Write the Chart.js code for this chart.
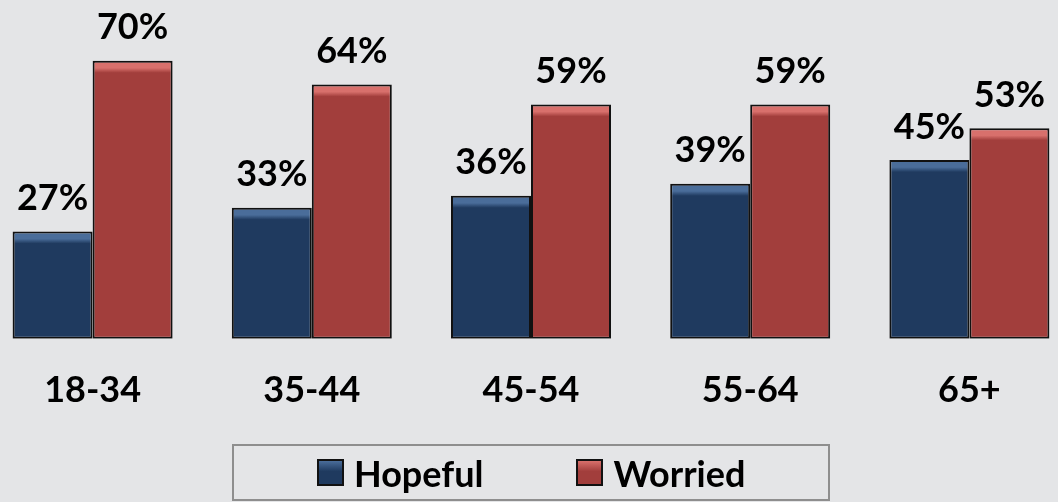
<!DOCTYPE html>
<html>
<head>
<meta charset="utf-8">
<script src="https://cdn.jsdelivr.net/npm/chart.js@4.4.1/dist/chart.umd.min.js"></script>
<style>
  html, body { margin: 0; padding: 0; background: #e4e5e7; width: 1058px; height: 502px; overflow: hidden; }
  #wrap { position: absolute; left: -17px; top: 0; width: 1096px; height: 502px; }
  #legend {
    position: absolute; left: 232px; top: 444px; width: 511px; height: 53px;
    border: 2px solid #8e8e8e; display: flex; align-items: center;
    padding-left: 83px; box-sizing: content-box; gap: 93px;
    font: bold 36px Lato, sans-serif; color: #000;
  }
  #legend .item { display: flex; align-items: center; }
  #legend .swatch { width: 23px; height: 23px; border: 2px solid #111; margin-right: 10px; }
</style>
</head>
<body>
<div id="wrap"><canvas id="chart"></canvas></div>
<div id="legend"></div>
<script>
const categories = ['18-34', '35-44', '45-54', '55-64', '65+'];
const hopefulValues = [27, 33, 36, 39, 45];
const worriedValues = [70, 64, 59, 59, 53];
const seriesNames = ['Hopeful', 'Worried'];

const FONT = 'Lato, sans-serif';

// lighter strip along the top of each bar, like the bevel in the original
function bevel(base, light) {
  return ctx => {
    const chart = ctx.chart;
    if (!chart.chartArea || !chart.scales.y || ctx.dataIndex === undefined) return base;
    const top = chart.scales.y.getPixelForValue(ctx.dataset.data[ctx.dataIndex]);
    const g = chart.ctx.createLinearGradient(0, top, 0, top + 12);
    g.addColorStop(0, light);
    g.addColorStop(0.6, light);
    g.addColorStop(1, base);
    return g;
  };
}

const valueLabels = {
  id: 'valueLabels',
  afterDatasetsDraw(chart) {
    const ctx = chart.ctx;
    ctx.save();
    ctx.font = 'bold 36px ' + FONT;
    ctx.fillStyle = '#000';
    ctx.textAlign = 'center';
    ctx.textBaseline = 'middle';
    chart.data.datasets.forEach((ds, i) => {
      chart.getDatasetMeta(i).data.forEach((bar, j) => {
        ctx.fillText(ds.data[j] + '%', bar.x, bar.y - 33);
      });
    });
    ctx.restore();
  }
};

const htmlLegend = {
  id: 'htmlLegend',
  afterUpdate(chart) {
    const box = document.getElementById('legend');
    box.innerHTML = chart.data.datasets.map(ds => `
      <div class="item">
        <span class="swatch" style="background:${ds.swatch}"></span>
        <span>${ds.label}</span>
      </div>`).join('');
  }
};

new Chart(document.getElementById('chart'), {
  type: 'bar',
  data: {
    labels: categories,
    datasets: [
      {
        label: seriesNames[0],
        data: hopefulValues,
        backgroundColor: bevel('#1f3a5f', '#4a6d9a'),
        swatch: 'linear-gradient(#4a6d9a, #1f3a5f 45%)',
        borderColor: '#111',
        borderWidth: 2,
        borderSkipped: false
      },
      {
        label: seriesNames[1],
        data: worriedValues,
        backgroundColor: bevel('#a23e3c', '#d8706c'),
        swatch: 'linear-gradient(#d8706c, #a23e3c 45%)',
        borderColor: '#111',
        borderWidth: 2,
        borderSkipped: false
      }
    ]
  },
  options: {
    responsive: true,
    maintainAspectRatio: false,
    animation: false,
    layout: { padding: { top: 21, bottom: 68, left: 0, right: 0 } },
    datasets: {
      bar: { categoryPercentage: 0.73, barPercentage: 1 }
    },
    plugins: {
      legend: { display: false },
      tooltip: { enabled: false }
    },
    scales: {
      x: {
        grid: { display: false },
        border: { display: false },
        ticks: { color: '#000', padding: 22, font: { family: FONT, size: 36, weight: 'bold' } }
      },
      y: {
        display: false,
        min: 0,
        max: 80
      }
    }
  },
  plugins: [valueLabels, htmlLegend]
});
</script>
</body>
</html>
